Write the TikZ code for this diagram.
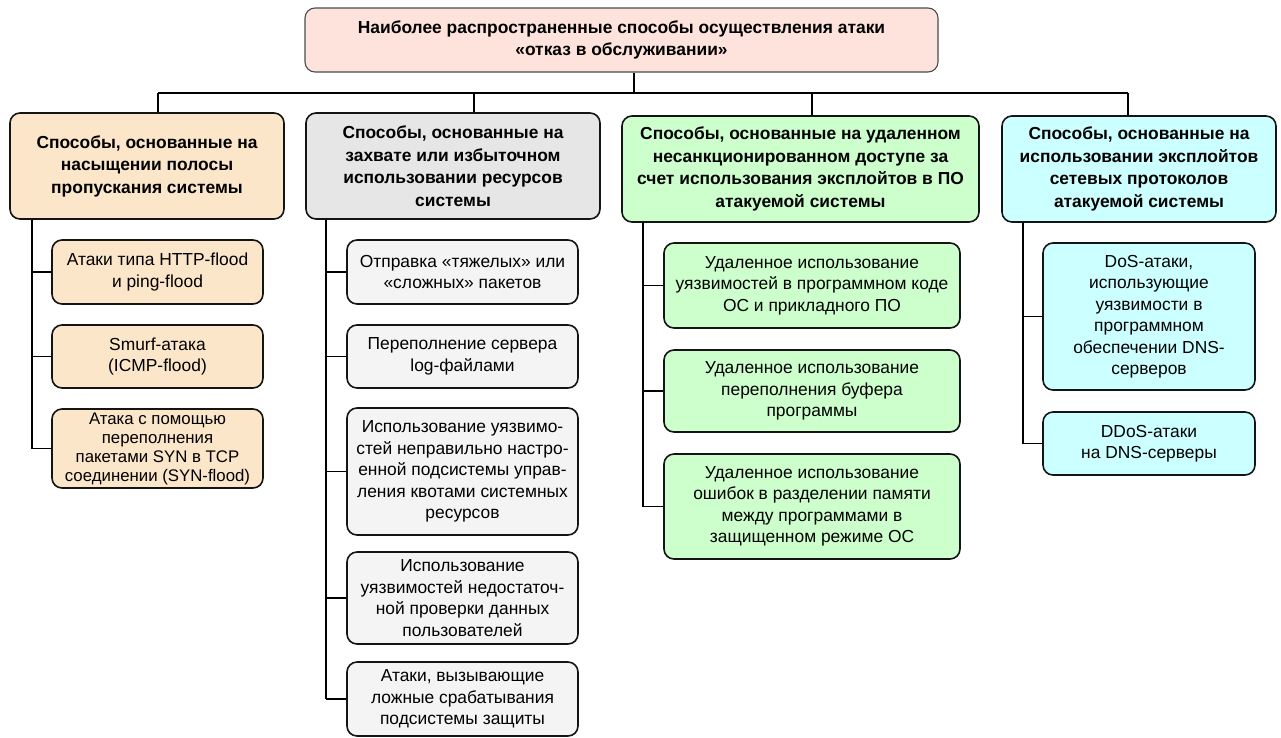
\documentclass[tikz,border=0pt]{standalone}
\usepackage{fontspec}
\setmainfont{Liberation Sans}
\definecolor{topfill}{HTML}{FDE3DB}
\definecolor{peach}{HTML}{FCE6C9}
\definecolor{greyhead}{HTML}{E6E6E6}
\definecolor{greykid}{HTML}{F4F4F4}
\definecolor{mint}{HTML}{CCFFCC}
\definecolor{aqua}{HTML}{CCFFFF}
\definecolor{edge}{HTML}{141414}
\tikzset{
  box/.style={draw=edge, line width=1.6pt, rounded corners=10pt, align=center,
    inner sep=0pt, font=\fontsize{17.4}{21.5}\selectfont},
  tightbox/.style={box, font=\fontsize{16.8}{19}\selectfont},
  headbox/.style={box, font=\fontsize{17.4}{22.5}\selectfont\bfseries},
  topbox/.style={headbox, draw=black!70, line width=1.1pt, fill=topfill},
  wire/.style={draw=black, line width=1.6pt},
}
% box from corner (#3,#4) to corner (#5,#6)
\newcommand\mkbox[7]{%
  \pgfmathsetmacro\bcx{(#3+#5)/2}\pgfmathsetmacro\bcy{(#4+#6)/2}%
  \pgfmathsetmacro\bw{#5-#3}\pgfmathsetmacro\bh{#6-#4}%
  \node[#2, minimum width=\bw pt, minimum height=\bh pt] (#1) at (\bcx,\bcy) {#7};}
\begin{document}
\begin{tikzpicture}[x=1pt, y=-1pt]
\useasboundingbox[fill=white] (0,0) rectangle (1281,737);

% root
\mkbox{root}{topbox}{305}{8}{938}{72}{Наиболее распространенные способы осуществления атаки\\«отказ в обслуживании»}

% column headers
\mkbox{h1}{headbox, fill=peach}{10}{113}{284}{219}{Способы, основанные на\\насыщении полосы\\пропускания системы}
\mkbox{h2}{headbox, fill=greyhead}{306}{113}{600}{219}{Способы, основанные на\\захвате или избыточном\\использовании ресурсов\\системы}
\mkbox{h3}{headbox, fill=mint}{622}{116}{979}{222}{Способы, основанные на удаленном\\несанкционированном доступе за\\счет использования эксплойтов в ПО\\атакуемой системы}
\mkbox{h4}{headbox, fill=aqua}{1002}{116}{1276}{222}{Способы, основанные на\\использовании эксплойтов\\сетевых протоколов\\атакуемой системы}

% column 1
\mkbox{a1}{box, fill=peach}{52}{240}{263}{304}{Атаки типа HTTP-flood\\и ping-flood}
\mkbox{a2}{box, fill=peach}{52}{325}{263}{388}{Smurf-атака\\(ICMP-flood)}
\mkbox{a3}{tightbox, fill=peach}{52}{409}{263}{488}{Атака с помощью\\переполнения\\пакетами SYN в TCP\\соединении (SYN-flood)}

% column 2
\mkbox{b1}{box, fill=greykid}{347}{240}{578}{304}{Отправка «тяжелых» или\\«сложных» пакетов}
\mkbox{b2}{box, fill=greykid}{347}{325}{578}{388}{Переполнение сервера\\log-файлами}
\mkbox{b3}{box, fill=greykid}{347}{408}{578}{535}{Использование уязвимо-\\стей неправильно настро-\\енной подсистемы управ-\\ления квотами системных\\ресурсов}
\mkbox{b4}{box, fill=greykid}{347}{552}{578}{644}{Использование\\уязвимостей недостаточ-\\ной проверки данных\\пользователей}
\mkbox{b5}{box, fill=greykid}{347}{662}{578}{736}{Атаки, вызывающие\\ложные срабатывания\\подсистемы защиты}

% column 3
\mkbox{c1}{box, fill=mint}{664}{243}{960}{328}{Удаленное использование\\уязвимостей в программном коде\\ОС и прикладного ПО}
\mkbox{c2}{box, fill=mint}{664}{350}{960}{432}{Удаленное использование\\переполнения буфера\\программы}
\mkbox{c3}{box, fill=mint}{664}{454}{960}{559}{Удаленное использование\\ошибок в разделении памяти\\между программами в\\защищенном режиме ОС}

% column 4
\mkbox{d1}{box, fill=aqua}{1043}{243}{1255}{390}{DoS-атаки,\\использующие\\уязвимости в\\программном\\обеспечении DNS-\\серверов}
\mkbox{d2}{box, fill=aqua}{1043}{412}{1255}{475}{DDoS-атаки\\на DNS-серверы}

% bus and drops
\coordinate (bus) at (634,93);
\coordinate (p1) at (158,93);
\coordinate (p2) at (474,93);
\coordinate (p3) at (812,93);
\coordinate (p4) at (1128,93);
\draw[wire] (root.south -| bus) -- (bus);
\draw[wire] (p1) -- (p4);
\foreach \i in {1,2,3,4} \draw[wire] (p\i) -- (p\i |- h\i.north);

% trunks
\coordinate (t1) at (32,0);
\coordinate (t2) at (326,0);
\coordinate (t3) at (643,0);
\coordinate (t4) at (1023,0);
\draw[wire] (t1 |- h1.south) -- (t1 |- a3.west);
\draw[wire] (t2 |- h2.south) -- (t2 |- b5.west);
\draw[wire] (t3 |- h3.south) -- (t3 |- c3.west);
\draw[wire] (t4 |- h4.south) -- (t4 |- d2.west);
\foreach \n in {a1,a2,a3} \draw[wire] (t1 |- \n.west) -- (\n.west);
\foreach \n in {b1,b2,b3,b4,b5} \draw[wire] (t2 |- \n.west) -- (\n.west);
\foreach \n in {c1,c2,c3} \draw[wire] (t3 |- \n.west) -- (\n.west);
\foreach \n in {d1,d2} \draw[wire] (t4 |- \n.west) -- (\n.west);
\end{tikzpicture}
\end{document}
